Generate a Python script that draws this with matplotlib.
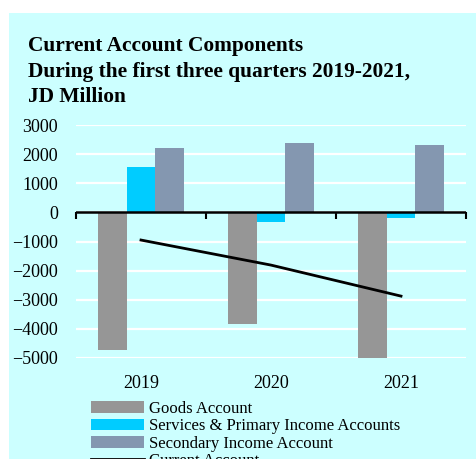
import numpy as np
import matplotlib
matplotlib.use("Agg")
import matplotlib.pyplot as plt
from matplotlib.patches import Rectangle

# Current account components, first three quarters, JD million
years = ["2019", "2020", "2021"]
goods = [-4730, -3845, -4990]
services_primary = [1570, -340, -200]
secondary = [2210, 2375, 2315]
current_account = [-950, -1810, -2875]

series_names = ["Goods Account", "Services & Primary Income Accounts",
                "Secondary Income Account", "Current Account"]
bar_colors = ["#969696", "#00CCFF", "#8497B0"]
bg = "#CCFFFF"

plt.rcParams['font.family'] = ['Liberation Serif', 'DejaVu Serif']

W, H = 476, 459
fig = plt.figure(figsize=(W / 100, H / 100), dpi=100)
fig.patch.set_facecolor("white")
fig.patches.append(Rectangle((9 / W, 0), 1 - 9 / W, 1 - 13 / H,
                             transform=fig.transFigure, facecolor=bg,
                             edgecolor="none", zorder=-5))

ax = fig.add_axes([76 / W, 101 / H, 390 / W, 233 / H])
ax.set_facecolor(bg)

x = np.arange(len(years))
w = 0.223
for i, (vals, name) in enumerate(zip([goods, services_primary, secondary], series_names)):
    ax.bar(x + (i - 1) * w, vals, width=w, color=bar_colors[i], label=name, zorder=3)
ax.plot(x, current_account, color="black", lw=2, label=series_names[3], zorder=4)

ax.set_xlim(-0.5, 2.5)
ax.set_ylim(-5000, 3000)
ax.set_yticks(np.arange(-5000, 3001, 1000))
ax.yaxis.grid(True, color="white", lw=1.6, zorder=1)
ax.set_axisbelow(True)
for s in ax.spines.values():
    s.set_visible(False)
ax.tick_params(axis="y", length=0, pad=13, labelsize=13)
ax.set_xticks(x)
ax.set_xticklabels(years)
ax.tick_params(axis="x", length=0, pad=12, labelsize=13)

# zero line with category boundary ticks pointing down
ax.axhline(0, color="black", lw=1.8, zorder=5)
zero_pos = (0 - ax.get_ylim()[0]) / (ax.get_ylim()[1] - ax.get_ylim()[0])
sec = ax.secondary_xaxis(zero_pos)
for s in sec.spines.values():
    s.set_visible(False)
sec.set_xticks(np.arange(-0.5, 2.6, 1.0))
sec.set_xticklabels([])
sec.tick_params(axis="x", direction="in", length=5, width=1.5,
                labeltop=False, labelbottom=False)

fig.text(28 / W, 1 - 36 / H,
         "Current Account Components\nDuring the first three quarters 2019-2021,\nJD Million",
         fontsize=15.4, fontweight="bold", va="top", ha="left", linespacing=1.38)

handles, labels = ax.get_legend_handles_labels()
order = [1, 2, 3, 0]
fig.legend([handles[i] for i in order], [labels[i] for i in order],
           loc="upper left", bbox_to_anchor=(91 / W, 1 - 401 / H),
           frameon=False, fontsize=12, handlelength=3.2, handletextpad=0.3,
           labelspacing=0.08, borderpad=0, borderaxespad=0)

fig.savefig("out.png", dpi=100, facecolor=fig.get_facecolor())
